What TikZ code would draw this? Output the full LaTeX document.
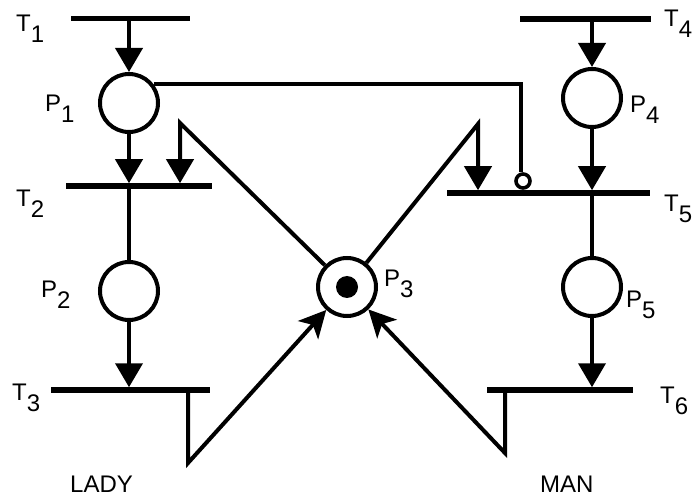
\documentclass[tikz,border=0pt]{standalone}
\usepackage{fontspec}
\setmainfont{Liberation Sans}
\usetikzlibrary{arrows.meta}
\newcommand{\lbl}[2]{#1\raisebox{-11pt}{#2}}
\begin{document}
\begin{tikzpicture}[x=1pt,y=-1pt,
  place/.style={circle,draw,line width=4pt,minimum size=58pt,inner sep=0pt},
  tokn/.style={circle,fill,minimum size=22pt,inner sep=0pt},
  bar/.style={rectangle,fill,minimum height=5.5pt,inner sep=0pt,outer sep=0pt},
  inhc/.style={circle,draw,line width=3.6pt,minimum size=14pt,inner sep=0pt},
  conn/.style={line width=4pt},
  arr/.style={conn,-{Triangle[length=24pt,width=27pt]}},
  arrp/.style={conn,-{Stealth[length=27pt,width=27pt,inset=7pt]}},
  lab/.style={anchor=base west,inner sep=0pt,font=\fontsize{24}{27}\selectfont},
]
\fill[white] (0,0) rectangle (693,502);

% transitions
\node[bar,minimum width=119pt] (T1) at (130.5,18.5) {};
\node[bar,minimum width=146pt] (T2) at (139,186) {};
\node[bar,minimum width=159pt] (T3) at (130.5,390) {};
\node[bar,minimum width=131pt] (T4) at (585.5,19) {};
\node[bar,minimum width=203pt] (T5) at (548.5,193) {};
\node[bar,minimum width=146pt] (T6) at (560,390) {};

% places
\node[place] (P1) at (129,103) {};
\node[place] (P2) at (129,291) {};
\node[place] (P3) at (347,287) {};
\node[place] (P4) at (592,98) {};
\node[place] (P5) at (592,287) {};
\node[tokn] (tok) at (P3) {};

% corner points
\coordinate (aL) at (180,123);
\coordinate (aR) at (478,124);
\coordinate (bL) at (188,463);
\coordinate (bR) at (505,453);
\coordinate (iC) at (521,85);
\node[inhc] (inh) at (523,181) {};

% lady
\draw[arr] (P1 |- T1.south) -- (P1.north);
\draw[arr] (P1.south) -- (P1 |- T2.north);
\draw[conn] (P2 |- T2.south) -- (P2.north);
\draw[arr] (P2.south) -- (P2 |- T3.north);
% man
\draw[arr] (P4 |- T4.south) -- (P4.north);
\draw[arr] (P4.south) -- (P4 |- T5.north);
\draw[conn] (P5 |- T5.south) -- (P5.north);
\draw[arr] (P5.south) -- (P5 |- T6.north);

% shared resource
\draw[arr] (P3) -- (aL) -- (aL |- T2.north);
\draw[arr] (P3) -- (aR) -- (aR |- T5.north);
\draw[arrp] (bL |- T3.south) -- (bL) -- (P3);
\draw[arrp] (bR |- T6.south) -- (bR) -- (P3);

% inhibitor
\draw[conn] (P1.37) -- (P1.37 -| iC) -- (iC |- inh.north);

% labels
\node[lab] (lT1) at (16,32) {\lbl{T}{1}};
\node[lab] (lT2) at (16,207) {\lbl{T}{2}};
\node[lab] (lT3) at (12,400) {\lbl{T}{3}};
\node[lab] (lT4) at (664,27) {\lbl{T}{4}};
\node[lab] (lT5) at (664,212) {\lbl{T}{5}};
\node[lab] (lT6) at (660,403) {\lbl{T}{6}};
\node[lab] (lP1) at (45,112) {\lbl{P}{1}};
\node[lab] (lP2) at (41,298) {\lbl{P}{2}};
\node[lab] (lP3) at (384,287) {\lbl{P}{3}};
\node[lab] (lP4) at (630,113) {\lbl{P}{4}};
\node[lab] (lP5) at (626,308) {\lbl{P}{5}};
\node[lab] (lady) at (70,492) {LADY};
\node[lab] (man) at (540,492) {MAN};
\end{tikzpicture}
\end{document}
